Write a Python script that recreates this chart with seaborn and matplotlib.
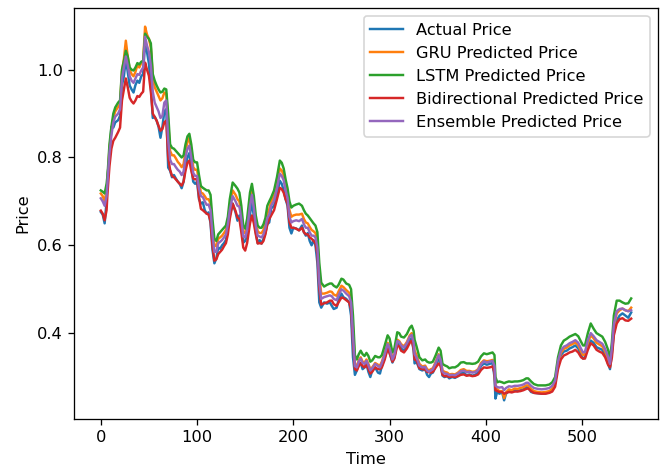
import matplotlib
matplotlib.use("Agg")
import matplotlib.pyplot as plt
import seaborn as sns
import pandas as pd

# Time steps (sampled along the test period)
time = [
	0, 2, 4, 6, 7, 9, 11, 13, 15, 18,
	20, 22, 24, 26, 28, 30, 32, 34, 36, 38,
	40, 42, 44, 46, 48, 50, 52, 54, 56, 58,
	60, 62, 64, 66, 68, 70, 72, 74, 76, 78,
	80, 82, 84, 86, 88, 90, 92, 94, 96, 98, 100,
	102, 104, 106, 108, 110, 112, 114, 116, 118, 120,
	122, 124, 126, 128, 130, 132, 134, 137, 140, 142,
	144, 146, 148, 150, 152, 155, 157, 159, 161, 163,
	165, 167, 169, 171, 173, 175, 177, 180, 183, 186,
	188, 190, 192, 194, 196, 198, 200, 203, 206, 209,
	211, 213, 215, 217, 219, 221, 223, 225, 227, 229,
	232, 235, 238, 240, 242, 245, 247, 250, 252, 255, 258,
	260, 262, 264, 266, 268, 270, 272, 274, 276, 278,
	280, 282, 285, 288, 290, 292, 295, 298, 300, 303,
	305, 308, 310, 312, 315, 318, 321, 323, 325, 326,
	328, 331, 334, 337, 339, 341, 343, 345, 348, 351,
	353, 355, 357, 360, 362, 365, 368, 371, 374, 377,
	380, 383, 386, 389, 392, 395, 398, 401, 404, 407,
	409, 410, 412, 414, 417, 419, 421, 424, 427, 430,
	433, 436, 439, 442, 444, 447, 450, 454, 458, 462,
	466, 469, 472, 475, 478, 481, 484, 487, 490, 493,
	496, 499, 501, 503, 506, 509, 512, 515, 518, 521,
	524, 527, 529, 531, 533, 536, 539, 542, 545, 548, 551,
]

actual = [
	0.676, 0.670, 0.650, 0.700, 0.760, 0.800, 0.870, 0.868, 0.880, 0.885,
	0.895, 0.965, 0.985, 1.025, 0.995, 0.964, 0.955, 0.948, 0.965, 0.975,
	0.970, 0.985, 0.990, 1.066, 1.040, 1.014, 0.960, 0.890, 0.893, 0.884,
	0.870, 0.845, 0.870, 0.905, 0.910, 0.777, 0.770, 0.755, 0.760, 0.752,
	0.745, 0.740, 0.730, 0.745, 0.780, 0.800, 0.810, 0.780, 0.745, 0.740, 0.745,
	0.705, 0.695, 0.698, 0.680, 0.672, 0.675, 0.650, 0.590, 0.559, 0.570,
	0.595, 0.592, 0.600, 0.605, 0.612, 0.640, 0.668, 0.695, 0.675, 0.656,
	0.668, 0.640, 0.606, 0.610, 0.625, 0.670, 0.700, 0.665, 0.630, 0.605,
	0.612, 0.604, 0.615, 0.628, 0.648, 0.652, 0.684, 0.690, 0.715, 0.747,
	0.740, 0.725, 0.705, 0.690, 0.640, 0.627, 0.640, 0.638, 0.634, 0.645,
	0.630, 0.622, 0.628, 0.610, 0.600, 0.612, 0.600, 0.560, 0.470, 0.458,
	0.470, 0.467, 0.470, 0.462, 0.455, 0.458, 0.475, 0.490, 0.482, 0.478, 0.470,
	0.440, 0.345, 0.305, 0.315, 0.330, 0.332, 0.318, 0.322, 0.330, 0.312,
	0.300, 0.315, 0.322, 0.310, 0.308, 0.325, 0.345, 0.367, 0.355, 0.333,
	0.345, 0.377, 0.372, 0.365, 0.360, 0.372, 0.385, 0.388, 0.360, 0.331,
	0.335, 0.318, 0.315, 0.318, 0.305, 0.300, 0.308, 0.310, 0.325, 0.345,
	0.330, 0.303, 0.300, 0.302, 0.297, 0.300, 0.298, 0.302, 0.308, 0.310,
	0.304, 0.306, 0.303, 0.305, 0.310, 0.325, 0.331, 0.328, 0.330, 0.332,
	0.300, 0.251, 0.268, 0.262, 0.265, 0.247, 0.262, 0.268, 0.266, 0.270,
	0.268, 0.270, 0.272, 0.277, 0.276, 0.266, 0.264, 0.263, 0.262, 0.263,
	0.265, 0.270, 0.285, 0.330, 0.350, 0.358, 0.360, 0.365, 0.368, 0.372,
	0.365, 0.350, 0.342, 0.345, 0.370, 0.383, 0.378, 0.368, 0.365, 0.362,
	0.350, 0.330, 0.318, 0.355, 0.400, 0.429, 0.440, 0.445, 0.440, 0.435, 0.447,
]

gru = [
	0.718, 0.712, 0.700, 0.725, 0.750, 0.820, 0.860, 0.890, 0.905, 0.915,
	0.922, 0.995, 1.025, 1.066, 1.030, 1.000, 0.990, 0.985, 0.995, 1.010,
	1.005, 1.015, 1.020, 1.098, 1.080, 1.070, 1.050, 0.985, 0.960, 0.950,
	0.940, 0.930, 0.935, 0.948, 0.945, 0.880, 0.815, 0.805, 0.805, 0.798,
	0.790, 0.785, 0.778, 0.785, 0.815, 0.835, 0.845, 0.815, 0.778, 0.772, 0.772,
	0.745, 0.720, 0.718, 0.712, 0.705, 0.705, 0.695, 0.640, 0.600, 0.598,
	0.615, 0.618, 0.622, 0.628, 0.635, 0.655, 0.690, 0.725, 0.715, 0.705,
	0.700, 0.670, 0.630, 0.628, 0.645, 0.700, 0.725, 0.695, 0.655, 0.632,
	0.628, 0.628, 0.635, 0.650, 0.672, 0.682, 0.700, 0.712, 0.740, 0.775,
	0.770, 0.760, 0.738, 0.718, 0.680, 0.665, 0.668, 0.670, 0.670, 0.672,
	0.660, 0.652, 0.650, 0.642, 0.635, 0.632, 0.628, 0.610, 0.530, 0.490,
	0.490, 0.492, 0.495, 0.494, 0.488, 0.485, 0.495, 0.508, 0.505, 0.498, 0.492,
	0.480, 0.410, 0.330, 0.325, 0.338, 0.345, 0.335, 0.333, 0.340, 0.330,
	0.318, 0.322, 0.332, 0.328, 0.326, 0.335, 0.355, 0.378, 0.370, 0.342,
	0.352, 0.385, 0.382, 0.375, 0.370, 0.380, 0.395, 0.400, 0.385, 0.360,
	0.350, 0.330, 0.324, 0.326, 0.318, 0.315, 0.318, 0.320, 0.335, 0.352,
	0.342, 0.315, 0.312, 0.310, 0.306, 0.307, 0.306, 0.310, 0.316, 0.318,
	0.314, 0.314, 0.312, 0.313, 0.318, 0.332, 0.338, 0.336, 0.337, 0.339,
	0.330, 0.275, 0.272, 0.268, 0.268, 0.252, 0.265, 0.272, 0.270, 0.274,
	0.273, 0.275, 0.277, 0.281, 0.281, 0.273, 0.268, 0.266, 0.265, 0.266,
	0.268, 0.273, 0.288, 0.333, 0.355, 0.364, 0.367, 0.372, 0.375, 0.379,
	0.372, 0.358, 0.350, 0.352, 0.378, 0.395, 0.388, 0.378, 0.374, 0.370,
	0.358, 0.340, 0.325, 0.362, 0.415, 0.445, 0.452, 0.456, 0.452, 0.450, 0.458,
]

lstm = [
	0.725, 0.722, 0.718, 0.740, 0.760, 0.830, 0.870, 0.900, 0.914, 0.925,
	0.930, 1.000, 1.020, 1.043, 1.030, 1.005, 1.000, 0.998, 1.005, 1.015,
	1.012, 1.018, 1.020, 1.082, 1.075, 1.070, 1.060, 0.990, 0.975, 0.964,
	0.955, 0.948, 0.950, 0.957, 0.955, 0.900, 0.830, 0.822, 0.820, 0.815,
	0.810, 0.805, 0.800, 0.805, 0.830, 0.848, 0.854, 0.830, 0.795, 0.789, 0.789,
	0.760, 0.735, 0.731, 0.728, 0.725, 0.725, 0.715, 0.660, 0.615, 0.610,
	0.625, 0.630, 0.635, 0.640, 0.645, 0.665, 0.705, 0.743, 0.735, 0.729,
	0.720, 0.690, 0.645, 0.638, 0.660, 0.720, 0.740, 0.712, 0.668, 0.645,
	0.640, 0.640, 0.648, 0.662, 0.690, 0.700, 0.709, 0.725, 0.755, 0.793,
	0.788, 0.775, 0.750, 0.730, 0.700, 0.686, 0.690, 0.693, 0.695, 0.690,
	0.680, 0.672, 0.668, 0.662, 0.656, 0.650, 0.645, 0.630, 0.560, 0.515,
	0.506, 0.510, 0.513, 0.513, 0.508, 0.504, 0.510, 0.524, 0.522, 0.513, 0.510,
	0.500, 0.440, 0.350, 0.340, 0.352, 0.360, 0.352, 0.348, 0.355, 0.348,
	0.335, 0.338, 0.348, 0.345, 0.345, 0.350, 0.372, 0.395, 0.388, 0.356,
	0.365, 0.402, 0.400, 0.392, 0.390, 0.398, 0.412, 0.417, 0.405, 0.385,
	0.370, 0.345, 0.338, 0.340, 0.335, 0.333, 0.333, 0.335, 0.350, 0.367,
	0.360, 0.330, 0.327, 0.324, 0.320, 0.322, 0.322, 0.326, 0.333, 0.334,
	0.331, 0.331, 0.330, 0.331, 0.335, 0.347, 0.354, 0.352, 0.354, 0.356,
	0.350, 0.300, 0.288, 0.290, 0.288, 0.286, 0.288, 0.290, 0.289, 0.290,
	0.290, 0.291, 0.293, 0.297, 0.297, 0.290, 0.284, 0.281, 0.281, 0.281,
	0.283, 0.288, 0.300, 0.345, 0.372, 0.383, 0.387, 0.392, 0.395, 0.398,
	0.393, 0.380, 0.372, 0.372, 0.400, 0.422, 0.410, 0.400, 0.396, 0.392,
	0.380, 0.362, 0.340, 0.380, 0.440, 0.474, 0.474, 0.470, 0.467, 0.468, 0.479,
]

bidirectional = [
	0.679, 0.672, 0.657, 0.680, 0.720, 0.780, 0.820, 0.838, 0.845, 0.858,
	0.868, 0.930, 0.955, 0.980, 0.960, 0.936, 0.928, 0.923, 0.930, 0.940,
	0.938, 0.945, 0.950, 1.016, 1.000, 0.986, 0.950, 0.900, 0.892, 0.884,
	0.872, 0.861, 0.865, 0.880, 0.884, 0.800, 0.772, 0.758, 0.755, 0.750,
	0.745, 0.740, 0.736, 0.745, 0.770, 0.788, 0.793, 0.770, 0.752, 0.750, 0.752,
	0.710, 0.683, 0.680, 0.676, 0.672, 0.670, 0.655, 0.600, 0.565, 0.568,
	0.580, 0.585, 0.590, 0.598, 0.605, 0.625, 0.660, 0.695, 0.678, 0.663,
	0.660, 0.630, 0.595, 0.588, 0.605, 0.650, 0.668, 0.650, 0.625, 0.604,
	0.605, 0.604, 0.610, 0.625, 0.648, 0.660, 0.668, 0.680, 0.705, 0.731,
	0.728, 0.720, 0.705, 0.695, 0.653, 0.640, 0.640, 0.638, 0.634, 0.640,
	0.630, 0.625, 0.625, 0.618, 0.615, 0.610, 0.605, 0.580, 0.500, 0.465,
	0.468, 0.470, 0.474, 0.474, 0.466, 0.462, 0.470, 0.481, 0.480, 0.475, 0.470,
	0.455, 0.380, 0.318, 0.315, 0.325, 0.332, 0.325, 0.322, 0.328, 0.318,
	0.308, 0.312, 0.322, 0.318, 0.318, 0.322, 0.340, 0.365, 0.355, 0.335,
	0.342, 0.372, 0.370, 0.360, 0.356, 0.365, 0.378, 0.383, 0.365, 0.340,
	0.338, 0.320, 0.318, 0.317, 0.312, 0.311, 0.310, 0.312, 0.322, 0.331,
	0.325, 0.305, 0.302, 0.302, 0.300, 0.301, 0.300, 0.302, 0.305, 0.306,
	0.303, 0.304, 0.302, 0.303, 0.306, 0.316, 0.322, 0.321, 0.322, 0.324,
	0.310, 0.270, 0.268, 0.266, 0.266, 0.262, 0.264, 0.266, 0.265, 0.267,
	0.267, 0.268, 0.270, 0.273, 0.274, 0.268, 0.264, 0.263, 0.262, 0.262,
	0.264, 0.267, 0.278, 0.318, 0.340, 0.349, 0.352, 0.356, 0.358, 0.362,
	0.356, 0.345, 0.342, 0.342, 0.362, 0.377, 0.372, 0.362, 0.358, 0.355,
	0.345, 0.328, 0.322, 0.345, 0.395, 0.422, 0.432, 0.434, 0.429, 0.428, 0.433,
]

ensemble = [
	0.707, 0.700, 0.690, 0.712, 0.745, 0.810, 0.850, 0.880, 0.893, 0.900,
	0.910, 0.980, 1.005, 1.030, 1.010, 0.985, 0.975, 0.970, 0.980, 0.990,
	0.988, 0.998, 1.005, 1.075, 1.055, 1.040, 1.010, 0.950, 0.925, 0.915,
	0.905, 0.890, 0.895, 0.925, 0.930, 0.840, 0.795, 0.785, 0.785, 0.778,
	0.772, 0.768, 0.760, 0.768, 0.800, 0.820, 0.827, 0.800, 0.765, 0.758, 0.758,
	0.730, 0.712, 0.710, 0.700, 0.692, 0.693, 0.680, 0.625, 0.585, 0.585,
	0.605, 0.608, 0.612, 0.618, 0.625, 0.648, 0.680, 0.712, 0.700, 0.690,
	0.688, 0.660, 0.620, 0.618, 0.635, 0.690, 0.715, 0.685, 0.645, 0.622,
	0.620, 0.618, 0.625, 0.640, 0.662, 0.670, 0.690, 0.702, 0.730, 0.763,
	0.758, 0.748, 0.725, 0.708, 0.665, 0.652, 0.655, 0.657, 0.655, 0.660,
	0.648, 0.640, 0.640, 0.630, 0.622, 0.622, 0.618, 0.595, 0.515, 0.478,
	0.482, 0.484, 0.486, 0.484, 0.478, 0.475, 0.486, 0.500, 0.497, 0.490, 0.484,
	0.470, 0.395, 0.325, 0.322, 0.335, 0.342, 0.332, 0.330, 0.337, 0.327,
	0.315, 0.320, 0.330, 0.325, 0.322, 0.332, 0.352, 0.375, 0.366, 0.340,
	0.350, 0.382, 0.380, 0.372, 0.367, 0.377, 0.392, 0.396, 0.378, 0.352,
	0.345, 0.326, 0.322, 0.323, 0.315, 0.312, 0.315, 0.318, 0.332, 0.350,
	0.340, 0.312, 0.308, 0.307, 0.304, 0.305, 0.304, 0.308, 0.313, 0.315,
	0.311, 0.312, 0.310, 0.311, 0.316, 0.329, 0.336, 0.333, 0.335, 0.337,
	0.325, 0.280, 0.277, 0.276, 0.277, 0.270, 0.275, 0.279, 0.278, 0.280,
	0.280, 0.281, 0.283, 0.287, 0.287, 0.280, 0.275, 0.273, 0.272, 0.273,
	0.275, 0.280, 0.292, 0.336, 0.360, 0.369, 0.372, 0.377, 0.380, 0.384,
	0.378, 0.364, 0.356, 0.357, 0.384, 0.400, 0.393, 0.384, 0.380, 0.376,
	0.364, 0.346, 0.330, 0.366, 0.420, 0.450, 0.455, 0.456, 0.452, 0.450, 0.452,
]

labels = ["Actual Price", "GRU Predicted Price", "LSTM Predicted Price",
	"Bidirectional Predicted Price", "Ensemble Predicted Price"]
colors = ["#1f77b4", "#ff7f0e", "#2ca02c", "#d62728", "#9467bd"]

series = [actual, gru, lstm, bidirectional, ensemble]
for s in series:
	assert len(s) == len(time), (len(s), len(time))

data = pd.DataFrame({"Time": time})
for label, s in zip(labels, series):
	data[label] = s

# the reference was rendered at ~117 dpi
dpi = 117
fig = plt.figure(figsize = (665 / dpi, 468 / dpi), dpi = dpi)
ax = fig.add_axes([0.1117, 0.1047, 0.8773, 0.8783])

for label, color in zip(labels, colors):
	sns.lineplot(data = data, x = "Time", y = label, color = color, label = label, linewidth = 1.5, ax = ax)

ax.set_xlabel("Time")
ax.set_ylabel("Price")
ax.legend(loc = "upper right")

plt.savefig("out.png", dpi = dpi)
